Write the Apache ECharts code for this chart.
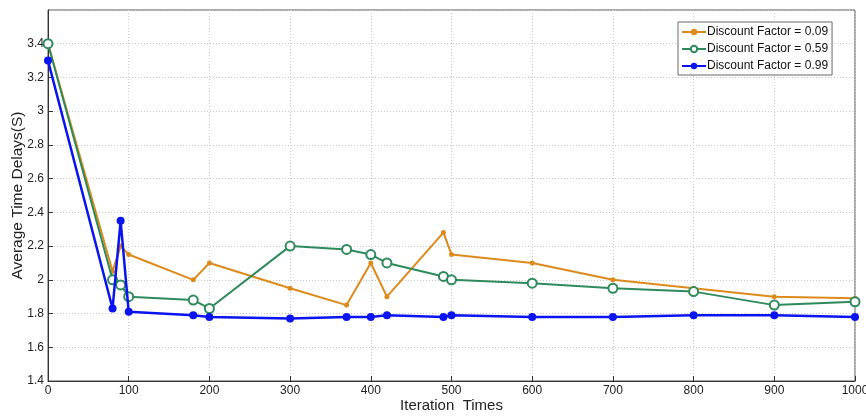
<!DOCTYPE html>
<html>
<head>
<meta charset="utf-8">
<script src="https://cdn.jsdelivr.net/npm/echarts@6/dist/echarts.min.js"></script>
<style>
html,body{margin:0;padding:0;background:#fff;}
#chart{width:866px;height:417px;}
</style>
</head>
<body>
<div id="chart"></div>
<script>
// iteration times (x)
var iterations = [0, 80, 90, 100, 180, 200, 300, 370, 400, 420, 490, 500, 600, 700, 800, 900, 1000];
// average time delays per discount factor
var df009 = [3.4, 2.05, 2.2, 2.15, 2.0, 2.1, 1.95, 1.85, 2.1, 1.9, 2.28, 2.15, 2.1, 2.0, 1.95, 1.9, 1.89];
var df059 = [3.4, 2.0, 1.97, 1.9, 1.88, 1.83, 2.2, 2.18, 2.15, 2.1, 2.02, 2.0, 1.98, 1.95, 1.93, 1.85, 1.87];
var df099 = [3.3, 1.83, 2.35, 1.81, 1.79, 1.78, 1.77, 1.78, 1.78, 1.79, 1.78, 1.79, 1.78, 1.78, 1.79, 1.79, 1.78];
var names = ['Discount Factor = 0.09', 'Discount Factor = 0.59', 'Discount Factor = 0.99'];

function pairs(ys) {
    var out = [];
    for (var i = 0; i < iterations.length; i++) {
        out.push([iterations[i], ys[i]]);
    }
    return out;
}

var chart = echarts.init(document.getElementById('chart'));

var gridLine = {show: true, lineStyle: {color: '#c8c8c8', type: [1, 2], width: 1}};

var option = {
    backgroundColor: '#fff',
    textStyle: {fontFamily: 'Liberation Sans'},
    grid: {
        left: 48, right: 11, top: 10, bottom: 36,
        containLabel: false, outerBoundsMode: 'none',
        show: true, borderColor: '#555', borderWidth: 1
    },
    legend: {
        orient: 'vertical',
        left: 678,
        top: 22,
        itemWidth: 24,
        itemHeight: 8,
        itemGap: 5,
        padding: [4, 4, 3, 3],
        borderColor: '#666',
        borderWidth: 1,
        borderRadius: 0,
        backgroundColor: '#fff',
        textStyle: {fontSize: 12, color: '#111', padding: [0, 0, 0, -4]},
        data: names
    },
    xAxis: {
        type: 'value',
        min: 0,
        max: 1000,
        interval: 100,
        name: 'Iteration  Times',
        nameLocation: 'middle',
        nameGap: 17,
        nameMoveOverlap: false,
        nameTextStyle: {fontSize: 15, color: '#222', verticalAlign: 'top'},
        axisLine: {show: true, onZero: false, lineStyle: {color: '#333'}},
        axisTick: {show: true, inside: true, length: 5, lineStyle: {color: '#333'}},
        axisLabel: {fontSize: 12, color: '#222', margin: 4, formatter: function (v) { return v + ''; }},
        splitLine: gridLine
    },
    yAxis: {
        type: 'value',
        min: 1.4,
        max: 3.6,
        interval: 0.2,
        name: 'Average Time Delays(S)',
        nameLocation: 'middle',
        nameGap: 22,
        nameMoveOverlap: false,
        nameTextStyle: {fontSize: 15.5, color: '#222'},
        axisLine: {show: true, lineStyle: {color: '#333'}},
        axisTick: {show: true, inside: true, length: 5, lineStyle: {color: '#333'}},
        axisLabel: {
            fontSize: 12, color: '#222', margin: 4,
            showMaxLabel: false,
            formatter: function (v) { return +v.toFixed(1) + ''; }
        },
        splitLine: gridLine
    },
    series: [
        {
            name: names[0],
            type: 'line',
            data: pairs(df009),
            symbol: 'circle',
            symbolSize: 5,
            itemStyle: {color: '#dd8a1c'},
            lineStyle: {width: 2, color: '#dd8a1c'},
            z: 3
        },
        {
            name: names[1],
            type: 'line',
            data: pairs(df059),
            symbol: 'emptyCircle',
            symbolSize: 9,
            itemStyle: {color: '#2e8a5c', borderWidth: 2},
            lineStyle: {width: 2, color: '#2e8a5c'},
            z: 4
        },
        {
            name: names[2],
            type: 'line',
            data: pairs(df099),
            symbol: 'circle',
            symbolSize: 8,
            itemStyle: {color: '#0a14f0'},
            lineStyle: {width: 2.5, color: '#0a14f0'},
            z: 5
        }
    ]
};

chart.setOption(option);
</script>
</body>
</html>
